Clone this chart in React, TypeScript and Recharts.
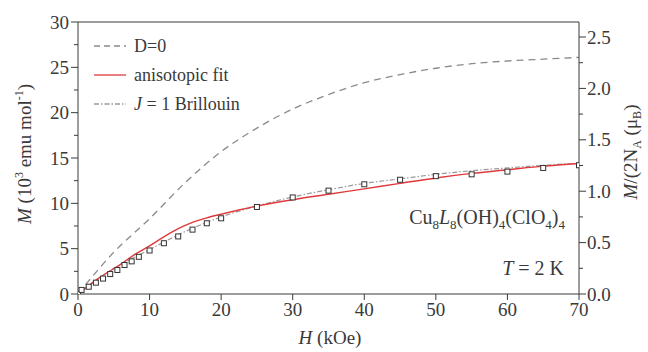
import React from "react";
import { ComposedChart, XAxis, YAxis, Line, Scatter, ReferenceLine } from "recharts";

// H in kOe, M in 10^3 emu/mol
const fieldTicks = [0, 10, 20, 30, 40, 50, 60, 70];
const leftTicks = [0, 2.5, 5, 7.5, 10, 12.5, 15, 17.5, 20, 22.5, 25, 27.5, 30];
const rightTicks = [0, 0.25, 0.5, 0.75, 1, 1.25, 1.5, 1.75, 2, 2.25, 2.5];

const d0H = [0, 5, 10, 15, 20, 25, 30, 35, 40, 45, 50, 55, 60, 65, 70];
const d0M = [0, 4.6, 8.3, 12.3, 15.7, 18.3, 20.4, 22.0, 23.3, 24.2, 24.9, 25.4, 25.7, 25.9, 26.1];

const fitH = [0, 3, 6, 8, 10, 12, 14, 16, 18, 20, 25, 30, 35, 40, 45, 50, 55, 60, 65, 70];
const fitM = [0, 1.8, 3.3, 4.4, 5.3, 6.3, 7.2, 7.9, 8.4, 8.8, 9.7, 10.4, 11.0, 11.6, 12.2, 12.8, 13.3, 13.7, 14.1, 14.4];

const brilH = [0, 5, 10, 15, 20, 25, 30, 35, 40, 45, 50, 55, 60, 65, 70];
const brilM = [0, 2.8, 4.9, 6.9, 8.5, 9.7, 10.7, 11.5, 12.2, 12.7, 13.2, 13.6, 13.9, 14.2, 14.4];

const expH = [0, 0.5, 1.5, 2.5, 3.5, 4.5, 5.5, 6.5, 7.5, 8.5, 10, 12, 14, 16, 18, 20, 25, 30, 35, 40, 45, 50, 55, 60, 65, 70];
const expM = [0, 0.45, 0.8, 1.25, 1.7, 2.2, 2.65, 3.2, 3.6, 4.1, 4.8, 5.6, 6.35, 7.1, 7.8, 8.35, 9.6, 10.65, 11.4, 12.1, 12.6, 13.0, 13.2, 13.5, 13.9, 14.2];

const zip = (hs: number[], ms: number[]) => hs.map((h, i) => ({ h, m: ms[i] }));
const d0Data = zip(d0H, d0M);
const fitData = zip(fitH, fitM);
const brilData = zip(brilH, brilM);
const expData = zip(expH, expM);

const FONT = '"Liberation Serif", "Times New Roman", serif';
const INK = "#3a3a3a";

const LeftTick = (props: any) => {
  const { x, y, payload } = props;
  const major = payload.value % 5 === 0;
  return (
    <g>
      <line x1={x - (major ? 7 : 4)} x2={x} y1={y} y2={y} stroke={INK} strokeWidth={1} />
      {major && (
        <text x={x - 9} y={y} dy="0.35em" textAnchor="end" fill={INK} fontSize={19} fontFamily={FONT}>
          {payload.value}
        </text>
      )}
    </g>
  );
};

const RightTick = (props: any) => {
  const { x, y, payload } = props;
  const major = Math.abs(payload.value * 2 - Math.round(payload.value * 2)) < 1e-6;
  return (
    <g>
      <line x1={x} x2={x + (major ? 7 : 4)} y1={y} y2={y} stroke={INK} strokeWidth={1} />
      {major && (
        <text x={x + 8} y={y} dy="0.35em" textAnchor="start" fill={INK} fontSize={19} fontFamily={FONT}>
          {payload.value.toFixed(1)}
        </text>
      )}
    </g>
  );
};

const BottomTick = (props: any) => {
  const { x, y, payload } = props;
  return (
    <g>
      <line x1={x} x2={x} y1={y} y2={y + 6} stroke={INK} strokeWidth={1} />
      <text x={x} y={y + 8} dy="0.75em" textAnchor="middle" fill={INK} fontSize={19} fontFamily={FONT}>
        {payload.value}
      </text>
    </g>
  );
};

const Square = (props: any) => {
  const { cx, cy } = props;
  if (cx == null || cy == null) return null;
  return <rect x={cx - 2.5} y={cy - 2.5} width={5} height={5} fill="#fff" stroke="#333" strokeWidth={1} />;
};

const legendItems = [
  { key: "d0", label: <>D=0</>, stroke: "#8a8a8a", dash: "6 4" },
  { key: "fit", label: <>anisotopic fit</>, stroke: "#e0393b", dash: undefined },
  { key: "bril", label: <><tspan fontStyle="italic">J</tspan> = 1 Brillouin</>, stroke: "#9a9a9a", dash: "5 2 1.5 2" },
];

export default function App() {
  return (
    <div style={{ position: "absolute", left: 0, top: 0, width: 648, height: 352, background: "#fff", fontFamily: FONT, color: INK }}>
      <ComposedChart width={648} height={352} margin={{ top: 22, right: 19, bottom: 28, left: 28 }}>
        <XAxis
          xAxisId="h"
          type="number"
          dataKey="h"
          domain={[0, 70]}
          ticks={fieldTicks}
          tick={<BottomTick />}
          tickLine={false}
          tickSize={0}
          tickMargin={0}
          height={30}
          stroke={INK}
          allowDataOverflow
        />
        <YAxis
          yAxisId="left"
          type="number"
          dataKey="m"
          domain={[0, 30]}
          ticks={leftTicks}
          tick={<LeftTick />}
          tickLine={false}
          tickSize={0}
          tickMargin={0}
          width={50}
          stroke={INK}
          interval={0}
          allowDataOverflow
        />
        <YAxis
          yAxisId="right"
          orientation="right"
          type="number"
          domain={[0, 2.646]}
          ticks={rightTicks}
          tick={<RightTick />}
          tickLine={false}
          tickSize={0}
          tickMargin={0}
          width={50}
          stroke={INK}
          interval={0}
          allowDataOverflow
        />
        <ReferenceLine xAxisId="h" yAxisId="left" y={30} stroke={INK} strokeWidth={1} />
        <Line
          xAxisId="h"
          yAxisId="left"
          data={d0Data}
          dataKey="m"
          type="monotone"
          stroke="#8a8a8a"
          strokeWidth={1.3}
          strokeDasharray="7 5"
          dot={false}
          isAnimationActive={false}
        />
        <Line
          xAxisId="h"
          yAxisId="left"
          data={brilData}
          dataKey="m"
          type="monotone"
          stroke="#9a9a9a"
          strokeWidth={1.2}
          strokeDasharray="5 2 1.5 2"
          dot={false}
          isAnimationActive={false}
        />
        <Line
          xAxisId="h"
          yAxisId="left"
          data={fitData}
          dataKey="m"
          type="monotone"
          stroke="#e0393b"
          strokeWidth={1.4}
          dot={false}
          isAnimationActive={false}
        />
        <Scatter
          xAxisId="h"
          yAxisId="left"
          data={expData}
          dataKey="m"
          shape={<Square />}
          isAnimationActive={false}
        />
      </ComposedChart>

      <svg width={200} height={90} style={{ position: "absolute", left: 92, top: 33 }}>
        {legendItems.map((it, i) => (
          <g key={it.key} transform={`translate(0, ${13 + i * 29})`}>
            <line x1={2} x2={34} y1={0} y2={0} stroke={it.stroke} strokeWidth={1.3} strokeDasharray={it.dash} />
            <text x={42} y={0} dy="0.35em" fontSize={18} fontFamily={FONT} fill={INK}>
              {it.label}
            </text>
          </g>
        ))}
      </svg>

      <div
        style={{
          position: "absolute",
          left: 22,
          top: 154,
          transform: "translate(-50%, -50%) rotate(-90deg)",
          whiteSpace: "nowrap",
          fontSize: 19,
          lineHeight: "20px",
        }}
      >
        <i>M</i> (10<sup style={{ fontSize: 12 }}>3</sup> emu mol<sup style={{ fontSize: 12 }}>-1</sup>)
      </div>

      <div
        style={{
          position: "absolute",
          left: 634,
          top: 152,
          transform: "translate(-50%, -50%) rotate(-90deg)",
          whiteSpace: "nowrap",
          fontSize: 19,
          lineHeight: "20px",
        }}
      >
        <i>M</i>/(2N<sub style={{ fontSize: 12 }}>A</sub> (μ<sub style={{ fontSize: 12 }}>B</sub>)
      </div>

      <div style={{ position: "absolute", left: 0, top: 328, width: 660, textAlign: "center", fontSize: 19, lineHeight: "20px" }}>
        <i>H</i> (kOe)
      </div>

      <div style={{ position: "absolute", right: 83, top: 206, fontSize: 20, lineHeight: "22px", whiteSpace: "nowrap" }}>
        Cu<sub style={{ fontSize: 13 }}>8</sub>
        <i>L</i>
        <sub style={{ fontSize: 13 }}>8</sub>(OH)<sub style={{ fontSize: 13 }}>4</sub>(ClO<sub style={{ fontSize: 13 }}>4</sub>)
        <sub style={{ fontSize: 13 }}>4</sub>
      </div>

      <div style={{ position: "absolute", right: 84, top: 257, fontSize: 20, lineHeight: "22px", whiteSpace: "nowrap" }}>
        <i>T</i> = 2 K
      </div>
    </div>
  );
}
